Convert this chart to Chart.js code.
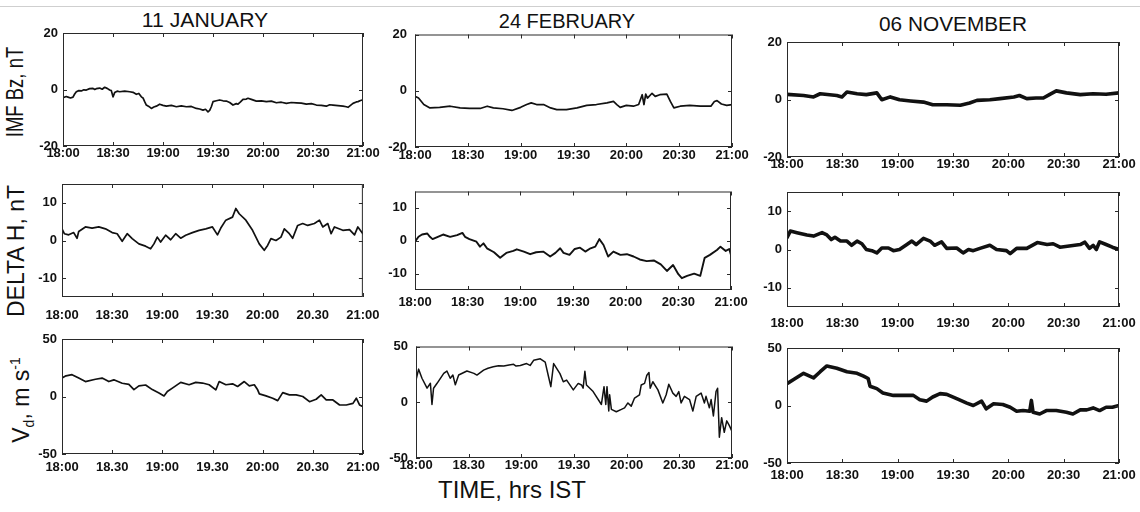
<!DOCTYPE html>
<html>
<head>
<meta charset="utf-8">
<script src="https://cdn.jsdelivr.net/npm/chart.js@4.4.1/dist/chart.umd.min.js"></script>
<style>
  html,body{margin:0;padding:0;background:#fff;}
  #wrap{position:relative;width:1140px;height:512px;overflow:hidden;background:#fff;}
  canvas{position:absolute;}
  .lbl{position:absolute;font-family:"Liberation Sans",Arial,sans-serif;color:#111;white-space:nowrap;line-height:1;}
  .topline{position:absolute;left:0;top:6px;width:1140px;height:0;border-top:1px solid #cfcfcf;}
</style>
</head>
<body>
<div id="wrap">
  <div class="topline"></div>
  <div class="lbl" style="left:205px;top:20px;font-size:20px;transform:translate(-50%,-50%) scaleX(1.06);">11 JANUARY</div>
  <div class="lbl" style="left:567px;top:21px;font-size:20px;transform:translate(-50%,-50%);">24 FEBRUARY</div>
  <div class="lbl" style="left:953px;top:24px;font-size:20px;transform:translate(-50%,-50%) scaleX(1.04);">06 NOVEMBER</div>
  <div class="lbl" style="left:16px;top:92px;font-size:18.5px;transform:translate(-50%,-50%) rotate(-90deg) scaleY(1.25);">IMF Bz, nT</div>
  <div class="lbl" style="left:16px;top:251px;font-size:23px;transform:translate(-50%,-50%) rotate(-90deg);">DELTA H, nT</div>
  <div class="lbl" style="left:22px;top:400px;font-size:23px;transform:translate(-50%,-50%) rotate(-90deg);">V<sub style="font-size:14px;">d</sub>, m s<sup style="font-size:14px;">-1</sup></div>
  <div class="lbl" style="left:512px;top:490px;font-size:24px;transform:translate(-50%,-50%);">TIME, hrs IST</div>
</div>
<script>
// ---------- DATA (minutes after 18:00 IST, values) ----------
const xTickValues = [0, 30, 60, 90, 120, 150, 180];
const xLabelsColon = ["18:00","18:30","19:00","19:30","20:00","20:30","21:00"];
const xLabelsMixed = ["18:00","18:30","19:00","19:30","20:00","20.30","21:00"];
const xLabelsDot   = ["18:00","18.30","19:00","19.30","20:00","20.30","21:00"];
const bzTicks = [-20, 0, 20];
const dhTicks = [-10, 0, 10];
const vdTicks = [-50, 0, 50];

// 11 January
const janBzT = [0,2,3,4.5,6,7,8,9.5,11,12.5,14,16,18,19,20,22,23.5,25,26.5,28,29,30,31,32.5,34,37,40,42,44,45.5,47,48,49,50,51.5,53,54.5,56,58,60,62,65,68,71,74,77,80,82,84,85.5,87,88,89,90,92,94,96,98,100,102,104,105,106.5,108,110,111,113,116,119,122,125,128,131,134,137,140,143,146,149,152,155,158,160,162,165,168,170,171,172.5,174,176,177,178.5,180];
const janBzV = [-2.9,-2.5,-2.7,-3.0,-2.7,-1.6,-0.8,-0.4,-0.5,-0.1,-0.2,0.3,0.4,0.0,0.3,0.5,0.1,0.8,0.4,-0.2,-0.4,-2.6,-1.1,-0.6,-0.8,-0.6,-0.8,-1.0,-1.7,-1.4,-2.6,-3.0,-4.3,-5.5,-6.0,-6.7,-6.2,-5.9,-5.2,-5.6,-5.9,-5.6,-6.1,-5.8,-6.1,-6.0,-6.7,-6.9,-7.3,-7.0,-7.9,-7.4,-6.1,-4.3,-4.0,-3.7,-4.0,-4.1,-4.6,-5.5,-5.0,-5.2,-4.4,-3.5,-3.4,-3.1,-3.5,-4.1,-4.0,-4.3,-4.1,-4.7,-4.5,-4.9,-4.6,-4.7,-4.8,-5.2,-5.0,-5.5,-5.6,-5.9,-5.4,-5.5,-5.7,-5.9,-6.1,-6.3,-5.6,-4.9,-4.4,-4.3,-3.9,-3.7];
const janDhT = [0,1.4,4,7,9,10,14,18,22,26,30,33,36,39,42,46,50,53,55,57,59,62,65,68,71,74,78,82,86,90,93,95,98,102,104,106,110,114,118,121,123,125,128,131,133,136,138,141,144,147,151,154,156,159,161,163,168,172,175,177,180];
const janDhV = [3.1,1.8,1.5,2.1,0.6,2.4,3.6,3.3,3.6,3.1,2.1,1.8,-0.2,1.8,0.5,-0.9,-1.5,-2.2,-0.9,0.9,-0.4,1.4,0.2,1.8,0.6,1.4,2.1,2.7,3.1,3.6,1.5,3.3,5.4,6.2,8.5,7.1,5.4,2.7,-0.9,-2.6,-1.3,0.5,0,0.9,3.1,1.8,0.6,4.0,4.5,4.0,4.5,5.4,3.6,4.5,1.8,3.6,2.7,2.9,1.5,3.6,1.8];
const janVdT = [0,2.4,6,10,14,20,24,28,31,36,40,43,46,50,54,58,61,63,66,71,76,80,84,88,92,94,98,102,105,109,112,115,117,118,122,126,129,132,136,140,144,148,152,155,158,162,166,170,174,176,178,180];
const janVdV = [16,18,19,16,13,15,16,13,14.5,11.5,10.5,6,9.3,10,6,3,0.5,4.3,7.3,12.3,10.2,12.3,11.7,10.2,5.8,13,10.2,11,8.7,13,9.3,10.2,5.8,2.3,0.5,-1.5,-3.6,3.4,1.4,1.4,0,-4.5,-2.4,1.4,-3,-3,-7.4,-7.4,-6,-1.5,-7.4,-8.9];

// 24 February
const febBzT = [0,2,5,8.5,14,20,25.6,31,37,41,44.5,50,55,60,63.4,66,69,73,77,80.5,86,92,97.5,103,109,112.7,114.6,116.5,120,124,127,129,130,131,132,134.6,136.4,139,143,145,147,150.6,156,162,168,170,171.5,174,177,180];
const febBzV = [-2.0,-2.6,-4.9,-6.1,-5.9,-5.5,-6.1,-6.3,-6.3,-5.5,-6.1,-6.4,-7.0,-5.9,-4.9,-4.3,-4.9,-4.9,-6.1,-6.7,-6.7,-6.1,-5.2,-4.9,-4.3,-3.8,-4.9,-5.9,-5.2,-5.5,-4.9,-1.4,-4.9,-1.2,-2.6,-0.9,-2.0,-1.4,-1.2,-3.8,-6.1,-5.5,-5.2,-5.5,-5.5,-3.8,-3.5,-4.7,-5.2,-4.9];
const febDhT = [0,2,4,7,8.5,10,13,16,20,24,27,28.5,31,35,37,39,41,45,48.5,52,56,58,62,65.6,69,73,77,80,82.7,84.6,88,91,94,97,100,102.7,105,107.4,110,113,117,120.7,124.5,128,132,136,140,143.5,147,150,152,155,159,162.5,165,168,172,174,177,179,180];
const febDhV = [-0.3,1.2,1.9,2.2,1.2,0.5,1.2,1.9,1.2,1.7,2.4,1.2,0.5,-0.3,-1.8,-0.8,-2.3,-3.5,-5.2,-3.7,-3.1,-2.6,-3.3,-4.1,-3.5,-3.3,-4.8,-3.7,-2.3,-3.7,-4.3,-2.5,-2.1,-3.3,-2.3,-1.8,0.5,-1.3,-4.8,-3.3,-4.3,-4.1,-4.8,-5.7,-6.2,-6.0,-7.2,-9.2,-7.4,-10.2,-11.4,-10.7,-10.0,-10.7,-5.2,-4.3,-2.8,-1.8,-3.1,-2.5,-4.3];
const febVdT = [0,1.5,3.4,6.3,8.2,9.1,10,12,15.8,17.6,19.5,21,22.4,24.3,29,33,34.7,38.5,41,44,47,50,53,55.6,57,59.4,63,65,67,70.8,73.6,75.5,76.8,78.4,82,83.9,85.8,89.6,92.4,94.3,95.2,96.2,97.1,100.9,105.6,107.1,108.1,108.8,109.8,110.3,111.3,114.1,117,118.8,120.7,122.6,124.5,127.3,128.3,130.2,131.5,132.7,133.4,134.9,137.8,140.6,142.5,144,146.3,148.2,149.7,151,152.9,155.8,157.7,159.6,162.4,164.3,165.2,167.1,168.1,169.4,170.9,171.8,172.8,174.1,175.6,177,178.5,179.8,180];
const febVdV = [20,29.7,21.5,12.6,17,-2,12.6,17,25.9,28,21.5,24.4,15.6,24.4,28,25.9,24.4,28.8,30.5,31.8,32.8,32.6,33.5,34,32.5,33,34.7,33,37.6,39,36,22.9,14,34.7,25.7,18.4,19.9,11.1,16.9,15.5,12.6,27.8,15.5,9.6,-2,14,-2,14,-7.9,6.7,-6.4,-8.5,-6.4,-5,-0.6,-3.5,3.8,6.7,15.5,16.9,24.3,26.6,12.6,18.4,11.1,-0.6,6.7,16.1,8.2,5.3,9.6,-0.6,5.3,2.4,-7.9,5.3,8.2,-0.6,5.3,-5,2.4,-12.3,9.6,12.6,-31.3,-13.8,-26.9,-16.7,-21,-25.4,-24];

// 06 November
const novBzT = [0,9,14.4,18,27,29.8,32.5,38,43,48.7,51.4,56,61,67,74,79,86.6,94,99,103,110,115.5,123,126,130,135,139,142.5,146,151.5,159,166,173,180];
const novBzV = [1.8,1.4,0.9,2.0,1.4,0.9,2.6,2.0,1.7,2.3,-0.1,0.9,-0.1,-0.5,-0.9,-1.8,-1.8,-2.0,-1.2,-0.3,-0.1,0.3,0.9,1.4,0.3,0.5,0.5,1.8,3.0,2.3,1.7,2.0,1.8,2.3];
const novDhT = [0,1.8,5.4,10.8,14.4,19,21.6,24,26,29,32.5,35,38,40.6,43,46,48.7,51.4,55,57.7,61,65,67.7,70,74,77.6,80,83.8,86.6,92,95.5,98.4,101,104.6,110,113.6,119,121,124.5,130,135.7,141,144.3,148,153,159,161.5,164,166,167.7,169.5,173,176.4,180];
const novDhV = [3.1,4.8,4.4,3.8,3.5,4.4,3.8,2.6,3.2,2.2,2.2,1.1,2.2,1.5,0,-0.3,-0.9,0.4,0.4,-0.3,0,1.3,2.2,1.3,2.9,2.2,1.1,2,0.3,0.4,-0.9,0,-0.3,0.3,1.1,0,-0.3,-1.1,0.3,0.3,1.8,1.3,1.5,0.6,0.9,1.3,1.9,0.3,1.1,0,2,1.3,0.6,0];
const novVdT = [0,3.6,9,14.4,18,21.6,27,32.5,38,41.5,44,45,48.7,52,57.7,63,68.5,72,75.7,79,83,86.6,92,97.5,101,105.5,108,112,117,121,124.5,128,131.6,132.5,133.4,137,140.6,146,151.5,155,159,162.5,166,169.5,173,176.4,180];
const novVdV = [19,22.6,28,24,29.4,34.4,32.4,29.4,28,25.6,23.5,16.8,14.7,10.9,8.8,8.8,8.8,5,3.8,7.4,10.3,9.7,5.9,2.1,0,3.8,-2.9,1.5,0.9,-1.5,-5,-4.4,-5,4.4,-5.9,-7.4,-4.4,-4.4,-5.9,-7.4,-3.8,-3.8,-2.1,-4.4,-1.5,-1.5,0];

// ---------- LAYOUT ----------
const panels = [
  {t:janBzT, v:janBzV, yr:[-20,20], yt:bzTicks, xl:xLabelsColon, L:63, T:33, R:363, B:146, lw:1.7, xOff:7, yGap:5},
  {t:janDhT, v:janDhV, yr:[-15,15], yt:dhTicks, xl:xLabelsMixed, L:62, T:184, R:363, B:297, lw:1.7, xOff:18, yGap:5},
  {t:janVdT, v:janVdV, yr:[-50,50], yt:vdTicks, xl:xLabelsDot, L:62, T:339, R:363, B:454, lw:1.7, xOff:13, yGap:5},
  {t:febBzT, v:febBzV, yr:[-20,20], yt:bzTicks, xl:xLabelsColon, L:415, T:32, R:732, B:147, lw:1.7, xOff:8, yGap:8},
  {t:febDhT, v:febDhV, yr:[-15,15], yt:dhTicks, xl:xLabelsColon, L:415, T:189, R:731, B:290, lw:1.9, xOff:12, yGap:8},
  {t:febVdT, v:febVdV, yr:[-50,50], yt:vdTicks, xl:xLabelsDot, L:416, T:344, R:732, B:458, lw:1.5, xOff:7, yGap:8},
  {t:novBzT, v:novBzV, yr:[-20,20], yt:bzTicks, xl:xLabelsColon, L:787, T:42, R:1119, B:157, lw:3.6, xOff:7, yGap:5},
  {t:novDhT, v:novDhV, yr:[-15,15], yt:dhTicks, xl:xLabelsColon, L:787, T:192, R:1119, B:307, lw:3.6, xOff:16, yGap:5},
  {t:novVdT, v:novVdV, yr:[-50,50], yt:vdTicks, xl:xLabelsColon, L:787, T:348, R:1119, B:463, lw:3.6, xOff:12, yGap:5}
];

function fontAvailable(name){
  const c = document.createElement('canvas').getContext('2d');
  const s = '18:00 0123456789 mmmWWiil';
  c.font = '16px monospace'; const a = c.measureText(s).width;
  c.font = '16px "' + name + '", monospace'; const b = c.measureText(s).width;
  return Math.abs(a - b) > 0.5;
}
const NARROW = fontAvailable('Liberation Sans Narrow');
const tickFont = NARROW
  ? {family:'"Liberation Sans Narrow"', size:15, weight:'bold', lineHeight:1}
  : {family:'"Liberation Sans", Arial, sans-serif', size:13, weight:'bold', lineHeight:1};

const framePlugin = {
  id:'frame',
  afterDatasetsDraw(chart){
    const ctx = chart.ctx, a = chart.chartArea, x = chart.scales.x, y = chart.scales.y;
    ctx.save();
    ctx.strokeStyle = '#2a2a2a';
    ctx.lineWidth = 1;
    ctx.strokeRect(a.left + 0.5, a.top + 0.5, a.right - a.left - 1, a.bottom - a.top - 1);
    ctx.beginPath();
    x.ticks.forEach(t => {
      const px = Math.round(x.getPixelForValue(t.value)) + 0.5;
      ctx.moveTo(px, a.top); ctx.lineTo(px, a.top + 4);
      ctx.moveTo(px, a.bottom); ctx.lineTo(px, a.bottom - 4);
    });
    y.ticks.forEach(t => {
      const py = Math.round(y.getPixelForValue(t.value)) + 0.5;
      ctx.moveTo(a.left, py); ctx.lineTo(a.left + 4, py);
      ctx.moveTo(a.right, py); ctx.lineTo(a.right - 4, py);
    });
    ctx.stroke();
    ctx.restore();
  }
};

const PADL = 40, PADT = 12, PADR = 28, PADB = 28;
const wrap = document.getElementById('wrap');

panels.forEach(p => {
  const cv = document.createElement('canvas');
  const w = (p.R - p.L) + PADL + PADR;
  const h = (p.B - p.T) + PADT + PADB;
  cv.width = w; cv.height = h;
  cv.style.left = (p.L - PADL) + 'px';
  cv.style.top = (p.T - PADT) + 'px';
  cv.style.width = w + 'px'; cv.style.height = h + 'px';
  wrap.appendChild(cv);
  const pts = p.t.map((tt, i) => ({x: tt, y: p.v[i]}));
  const xl = p.xl, yt = p.yt;
  new Chart(cv, {
    type: 'line',
    data: { datasets: [{ data: pts, borderColor: '#111', borderWidth: p.lw, pointRadius: 0, tension: 0, fill: false, borderJoinStyle: 'round', borderCapStyle: 'round' }] },
    options: {
      responsive: false,
      animation: false,
      devicePixelRatio: 1,
      layout: { padding: { left: 0, top: PADT, right: PADR, bottom: 0 } },
      plugins: { legend: { display: false }, tooltip: { enabled: false } },
      events: [],
      scales: {
        x: {
          type: 'linear', min: 0, max: 180,
          grid: { display: false, drawTicks: false },
          border: { display: false },
          afterBuildTicks: s => { s.ticks = xTickValues.map(v => ({value: v})); },
          afterFit: s => { s.height = PADB; },
          ticks: {
            autoSkip: false, maxRotation: 0, minRotation: 0,
            padding: p.xOff - tickFont.size / 2,
            color: '#111', font: tickFont,
            callback: (v, i) => xl[i]
          }
        },
        y: {
          type: 'linear', min: p.yr[0], max: p.yr[1],
          grid: { display: false, drawTicks: false },
          border: { display: false },
          afterBuildTicks: s => { s.ticks = yt.map(v => ({value: v})); },
          afterFit: s => { s.width = PADL; },
          ticks: {
            autoSkip: false, padding: p.yGap,
            color: '#111', font: tickFont,
            callback: v => String(v)
          }
        }
      }
    },
    plugins: [framePlugin]
  });
});
</script>
</body>
</html>
